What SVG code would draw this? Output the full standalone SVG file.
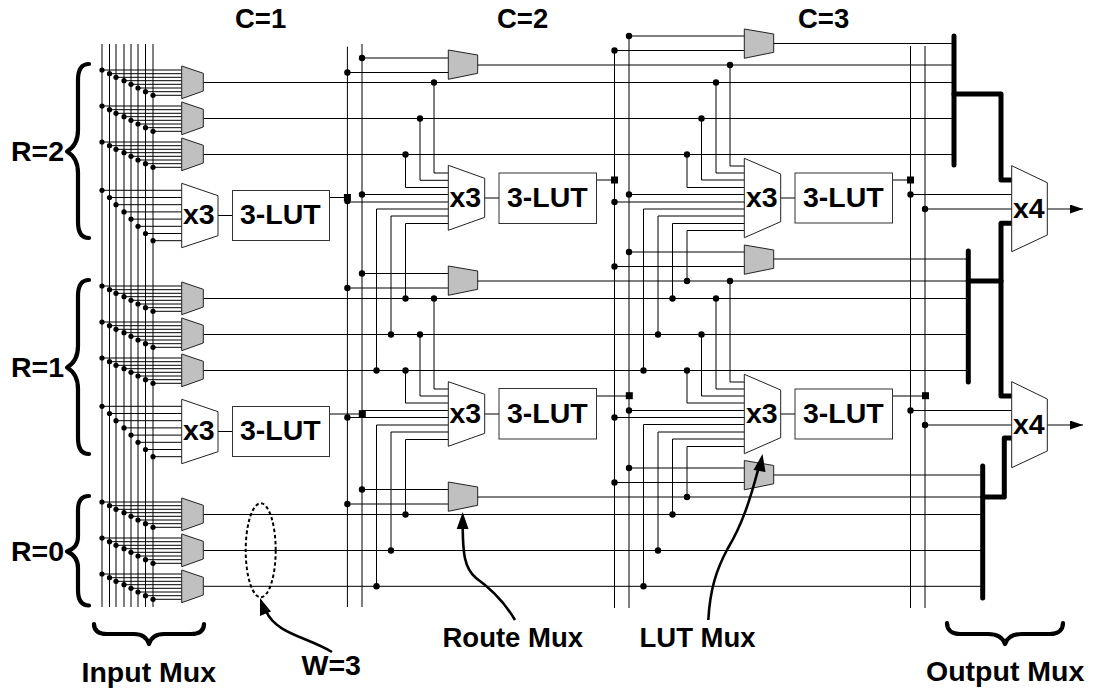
<svg xmlns="http://www.w3.org/2000/svg" xmlns:xlink="http://www.w3.org/1999/xlink" width="1094" height="690" viewBox="0 0 1094 690">
<style>
text{font-family:"Liberation Sans",Arial,sans-serif;font-weight:bold;fill:#000}
.t28{font-size:28.500px}
.t27{font-size:27.500px}
.w{fill:none;stroke:#000;stroke-width:1}
.bus{fill:none;stroke:#000;stroke-width:5;stroke-linecap:round;stroke-linejoin:round}
.brace{fill:none;stroke:#000;stroke-width:4.200;stroke-linecap:round;stroke-linejoin:round}
.ann{fill:none;stroke:#000;stroke-width:2.600}
.gm{fill:#c0c0c0;stroke:#222;stroke-width:1}
.wm{fill:#fff;stroke:#222;stroke-width:1}
.lut{fill:#fff;stroke:#333;stroke-width:1}
.d{fill:#000}
</style>
<defs>
<g id="fan">
<path class="w" d="M102 70H182M109.5 73.7H182M116 77.3H182M124 80.7H182M131 84.3H182M138 88H182M145.5 91.7H182M153 95.3H182"/>
<circle class="d" cx="102" cy="70" r="2.600"/><circle class="d" cx="109.5" cy="73.7" r="2.600"/><circle class="d" cx="116" cy="77.3" r="2.600"/><circle class="d" cx="124" cy="80.7" r="2.600"/><circle class="d" cx="131" cy="84.3" r="2.600"/><circle class="d" cx="138" cy="88" r="2.600"/><circle class="d" cx="145.5" cy="91.7" r="2.600"/><circle class="d" cx="153" cy="95.3" r="2.600"/>
</g>
<g id="fan3">
<path class="w" d="M102 190.3H182M109.5 197.5H182M116 204.7H182M124 211.9H182M131 219.1H182M138 226.3H182M145.5 233.5H182M153 240.7H182"/>
<circle class="d" cx="102" cy="190.3" r="2.600"/><circle class="d" cx="109.5" cy="197.5" r="2.600"/><circle class="d" cx="116" cy="204.7" r="2.600"/><circle class="d" cx="124" cy="211.9" r="2.600"/><circle class="d" cx="131" cy="219.1" r="2.600"/><circle class="d" cx="138" cy="226.3" r="2.600"/><circle class="d" cx="145.5" cy="233.5" r="2.600"/><circle class="d" cx="153" cy="240.7" r="2.600"/>
</g>
<polygon id="imux" class="gm" points="181.7,66 203.3,73.3 203.3,91 181.7,98.7"/>
<polygon id="rmux" class="gm" points="448.3,50 477.7,55 477.7,73.3 448.3,79.3"/>
<marker id="out" markerUnits="userSpaceOnUse" markerWidth="13" markerHeight="9" refX="13" refY="4.5" orient="auto"><path d="M0 0L13 4.500L0 9Z" fill="#000"/></marker>
<circle id="p" class="d" r="3.200"/>
<rect id="s" class="d" x="-3.500" y="-3.500" width="7" height="7"/>
</defs>

<g id="connectors">
<path class="w" d="M102 44V607M109.5 44V607M116 44V607M124 44V607M131 44V607M138 44V607M145.5 44V607M153 44V607"/>
<use xlink:href="#fan"/><use xlink:href="#fan" y="36"/><use xlink:href="#fan" y="72"/>
<use xlink:href="#fan" y="216"/><use xlink:href="#fan" y="252"/><use xlink:href="#fan" y="288"/>
<use xlink:href="#fan" y="432"/><use xlink:href="#fan" y="468"/><use xlink:href="#fan" y="504"/>
<use xlink:href="#fan3"/><use xlink:href="#fan3" y="216"/>
<path class="w" d="M347.4 46.7V607M362 44V607M614.5 50.5V608M629 36V608M910.5 46V608M925 46V608"/>
<path class="w" d="M203 82.5H954M203 118.5H954M203 154.5H954M477 65H954M773 43.5H954"/>
<path class="w" d="M203 298.5H968M203 334.5H968M203 370.5H968M477 281H968M773 259H968"/>
<path class="w" d="M203 514.5H983M203 550.5H983M203 586.3H983M477 497H983M773 475H983"/>
<path class="w" d="M362 58H449M347.4 72.5H449M362 273.5H449M347.4 288H449M362 489.5H449M347.4 504H449"/>
<path class="w" d="M629 36H745M614.5 50.5H745M629 252H745M614.5 266.5H745M629 468H745M614.5 482.5H745"/>
<path class="w" d="M434 82.5V173H449M420 118.5V180.3H449M405.5 154.5V187.5H449M362 194.5H449M347.4 202H449M376.5 370.5V209H449M391 334.5V216H449M405.5 298.5V223.5H449"/>
<path class="w" d="M434 298.5V389H449M420 334.5V396H449M405.5 370.5V403H449M362 410.5H449M347.4 417.5H449M376.5 586.3V425H449M391 550.5V432H449M405.5 514.5V439.5H449"/>
<path class="w" d="M730 65V166H745M716 82.5V173H745M701.5 118.5V180H745M687 154.5V187.5H745M629 194.5H745M614.5 202H745M643.5 370.5V209H745M658 334.5V216H745M672.5 298.5V223.5H745M687 281V230.5H745"/>
<path class="w" d="M730 281V382H745M716 298.5V389H745M701.5 334.5V396H745M687 370.5V403H745M629 410.5H745M614.5 417.5H745M643.5 586.3V424.5H745M658 550.5V432H745M672.5 514.5V439H745M687 497V446.5H745"/>
<path class="w" d="M218 215.5H232M329 197.5H347.4M218 431.5H232M329 414H362M484 198H499M596 180H614.5M484 414H499M596 396H629M780 198H795M892 180H910.5M780 414H795M892 396H925"/>
<path class="w" d="M910.5 194.5H1012M925 209H1012M910.5 410.5H1012M925 425H1012"/>
<path class="w" marker-end="url(#out)" d="M1047 209H1083"/>
<path class="w" marker-end="url(#out)" d="M1047 425H1083"/>
<path class="bus" d="M954 36V165"/>
<path class="bus" d="M954 94H1001V180H1012"/>
<path class="bus" d="M968.3 251V382"/>
<path class="bus" d="M968.3 281H1001"/>
<path class="bus" d="M1012 223.3H1001V396H1012"/>
<path class="bus" d="M982.7 466V598"/>
<path class="bus" d="M982.7 497H1004.3V438H1012"/>
<use xlink:href="#p" x="362" y="58"/><use xlink:href="#p" x="347.4" y="72.5"/><use xlink:href="#p" x="434" y="82.5"/><use xlink:href="#p" x="420" y="118.5"/><use xlink:href="#p" x="405.5" y="154.5"/>
<use xlink:href="#p" x="362" y="194.5"/><use xlink:href="#p" x="347.4" y="201"/>
<use xlink:href="#p" x="362" y="273.5"/><use xlink:href="#p" x="347.4" y="288"/>
<use xlink:href="#p" x="405.5" y="298.5"/><use xlink:href="#p" x="434" y="298.5"/><use xlink:href="#p" x="391" y="334.5"/><use xlink:href="#p" x="420" y="334.5"/><use xlink:href="#p" x="376.5" y="370.5"/><use xlink:href="#p" x="405.5" y="370.5"/>
<use xlink:href="#p" x="347.4" y="417.5"/>
<use xlink:href="#p" x="362" y="489.5"/><use xlink:href="#p" x="347.4" y="504"/>
<use xlink:href="#p" x="405.5" y="514.5"/><use xlink:href="#p" x="391" y="550.5"/><use xlink:href="#p" x="376.5" y="586.3"/>
<use xlink:href="#p" x="629" y="36"/><use xlink:href="#p" x="614.5" y="50.5"/><use xlink:href="#p" x="730" y="65"/><use xlink:href="#p" x="716" y="82.5"/><use xlink:href="#p" x="701.5" y="118.5"/><use xlink:href="#p" x="687" y="154.5"/>
<use xlink:href="#p" x="629" y="194.5"/><use xlink:href="#p" x="614.5" y="202"/>
<use xlink:href="#p" x="629" y="252"/><use xlink:href="#p" x="614.5" y="266.5"/>
<use xlink:href="#p" x="687" y="281"/><use xlink:href="#p" x="730" y="281"/><use xlink:href="#p" x="672.5" y="298.5"/><use xlink:href="#p" x="716" y="298.5"/><use xlink:href="#p" x="658" y="334.5"/><use xlink:href="#p" x="701.5" y="334.5"/><use xlink:href="#p" x="643.5" y="370.5"/><use xlink:href="#p" x="687" y="370.5"/>
<use xlink:href="#p" x="629" y="410.5"/><use xlink:href="#p" x="614.5" y="417.5"/>
<use xlink:href="#p" x="629" y="468"/><use xlink:href="#p" x="614.5" y="482.5"/>
<use xlink:href="#p" x="687" y="497"/><use xlink:href="#p" x="672.5" y="514.5"/><use xlink:href="#p" x="658" y="550.5"/><use xlink:href="#p" x="643.5" y="586.3"/>
<use xlink:href="#p" x="910.5" y="194.5"/><use xlink:href="#p" x="925" y="209"/><use xlink:href="#p" x="910.5" y="410.5"/><use xlink:href="#p" x="925" y="425"/>
<use xlink:href="#s" x="347.4" y="197.5"/><use xlink:href="#s" x="362.3" y="413.7"/><use xlink:href="#s" x="614.5" y="180"/><use xlink:href="#s" x="629.3" y="395.7"/><use xlink:href="#s" x="910.5" y="180"/><use xlink:href="#s" x="925.5" y="395.7"/>
</g>

<g id="input-mux-r2-0"><use xlink:href="#imux"/></g>
<g id="input-mux-r2-1"><use xlink:href="#imux" y="36"/></g>
<g id="input-mux-r2-2"><use xlink:href="#imux" y="72"/></g>
<g id="input-mux-r1-0"><use xlink:href="#imux" y="216"/></g>
<g id="input-mux-r1-1"><use xlink:href="#imux" y="252"/></g>
<g id="input-mux-r1-2"><use xlink:href="#imux" y="288"/></g>
<g id="input-mux-r0-0"><use xlink:href="#imux" y="432"/></g>
<g id="input-mux-r0-1"><use xlink:href="#imux" y="468"/></g>
<g id="input-mux-r0-2"><use xlink:href="#imux" y="504"/></g>

<g id="route-mux-c2-r2"><use xlink:href="#rmux"/></g>
<g id="route-mux-c2-r1"><use xlink:href="#rmux" y="216"/></g>
<g id="route-mux-c2-r0"><use xlink:href="#rmux" y="432"/></g>
<g id="route-mux-c3-r2"><use xlink:href="#rmux" x="296" y="-21"/></g>
<g id="route-mux-c3-r1"><use xlink:href="#rmux" x="296" y="195"/></g>
<g id="route-mux-c3-r0"><use xlink:href="#rmux" x="296" y="410.5"/></g>

<g id="lut-mux-c1-r2"><polygon class="wm" points="181.7,183.3 218,195.7 218,235.7 181.7,247.7"/><text class="t28" x="183" y="224">x3</text></g>
<g id="lut-c1-r2"><rect class="lut" x="232.5" y="190.5" width="97" height="50"/><text class="t28" x="240" y="224">3-LUT</text></g>
<g id="lut-mux-c1-r1"><polygon class="wm" points="181.7,399.3 218,411.7 218,451.7 181.7,463.7"/><text class="t28" x="183" y="440">x3</text></g>
<g id="lut-c1-r1"><rect class="lut" x="232.5" y="406.5" width="97" height="50"/><text class="t28" x="240" y="440">3-LUT</text></g>

<g id="lut-mux-c2-r2"><polygon class="wm" points="448.3,165.3 484.7,178.3 484.7,217.3 448.3,230.3"/><text class="t28" x="449.500" y="206.500">x3</text></g>
<g id="lut-c2-r2"><rect class="lut" x="499" y="173" width="97.5" height="50.5"/><text class="t28" x="507" y="206.500">3-LUT</text></g>
<g id="lut-mux-c2-r1"><polygon class="wm" points="448.3,381.7 484.7,394.3 484.7,433.3 448.3,446.3"/><text class="t28" x="449.500" y="422.500">x3</text></g>
<g id="lut-c2-r1"><rect class="lut" x="499" y="388.5" width="97.5" height="50.5"/><text class="t28" x="507" y="422.500">3-LUT</text></g>

<g id="lut-mux-c3-r2"><polygon class="wm" points="744.3,158.3 780.7,174 780.7,221.7 744.3,237.7"/><text class="t28" x="746" y="207">x3</text></g>
<g id="lut-c3-r2"><rect class="lut" x="795" y="173" width="97.5" height="50"/><text class="t28" x="803" y="207">3-LUT</text></g>
<g id="lut-mux-c3-r1"><polygon class="wm" points="744.3,374.3 780.7,390 780.7,437.7 744.3,453.7"/><text class="t28" x="746" y="423">x3</text></g>
<g id="lut-c3-r1"><rect class="lut" x="795" y="389" width="97.5" height="50"/><text class="t28" x="803" y="423">3-LUT</text></g>

<g id="output-mux-1"><polygon class="wm" points="1011.7,165.7 1047.3,182.7 1047.3,235 1011.7,251.7"/><text class="t28" x="1013" y="217.500">x4</text></g>
<g id="output-mux-2"><polygon class="wm" points="1011.7,381.7 1047.3,399 1047.3,451 1011.7,467.7"/><text class="t28" x="1013" y="433.500">x4</text></g>

<g id="labels">
<text class="t27" x="235" y="28">C=1</text>
<text class="t27" x="497" y="28">C=2</text>
<text class="t27" x="798" y="28">C=3</text>
<text class="t28" x="11" y="161">R=2</text>
<text class="t28" x="11" y="377">R=1</text>
<text class="t28" x="11" y="561">R=0</text>
<text class="t28" x="81.500" y="681.500">Input Mux</text>
<text class="t28" x="301.500" y="675">W=3</text>
<text class="t27" x="442.500" y="647">Route Mux</text>
<text class="t27" x="639.500" y="647">LUT Mux</text>
<text class="t28" x="926" y="681">Output Mux</text>
</g>

<g id="braces">
<path class="brace" d="M89 64C81 64 78 70 78 80V130C78 142 73 148 67 151.500C73 155 78 161 78 173V222C78 232 81 238 89 238"/>
<path class="brace" d="M89 280C81 280 78 286 78 296V346C78 358 73 364 67 367.500C73 371 78 377 78 389V438C78 448 81 454 89 454"/>
<path class="brace" d="M89 496C81 496 78 502 78 510V536C78 546 73 549 67 551.500C73 554 78 558 78 568V590C78 600 81 605.500 89 605.500"/>
<path class="brace" d="M94 624C94 631 99 634 107 634H134C143 634 147 638 149 644C151 638 155 634 164 634H191C199 634 204 631 204 624"/>
<path class="brace" d="M947 623C947 630 952 634 960 634H988C998 634 1003 638 1005 644C1007 638 1012 634 1022 634H1050C1058 634 1063 630 1063 623"/>
</g>

<g id="annotations">
<ellipse cx="260.700" cy="550.300" rx="15" ry="47" fill="none" stroke="#000" stroke-width="2" stroke-dasharray="3.500 2.500"/>
<path class="ann" d="M332 652C308 637 276 634 266 611"/>
<polygon class="d" points="260,598 260,616 271,611.500"/>
<path class="ann" d="M462.700 528C463 552 464 568 476 578C490 588 505 603 515 620"/>
<polygon class="d" points="462.700,512 456.700,529 468.500,529"/>
<path class="ann" d="M708.300 620C710 590 716 570 728 548C742 525 750 500 758 470"/>
<polygon class="d" points="762.500,454 753.500,470 765.500,472"/>
</g>
</svg>
